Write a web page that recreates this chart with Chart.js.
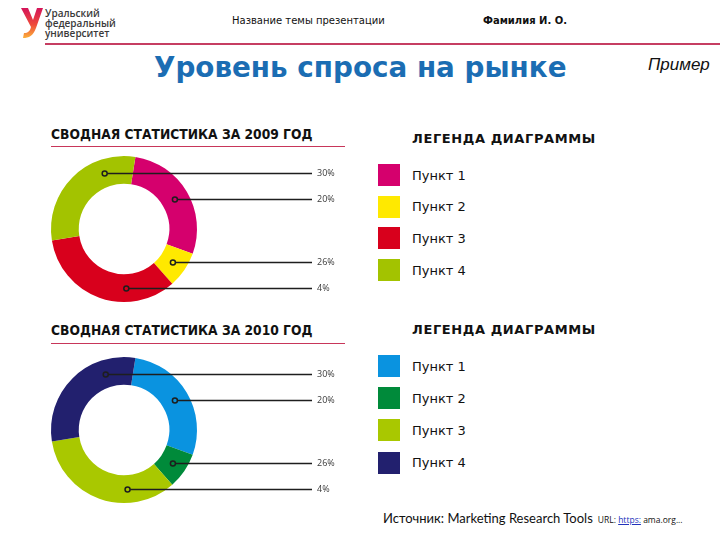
<!DOCTYPE html>
<html lang="ru">
<head>
<meta charset="utf-8">
<title>Уровень спроса на рынке</title>
<script src="https://cdn.jsdelivr.net/npm/chart.js@4.4.1/dist/chart.umd.min.js"></script>
<style>
  html, body { margin: 0; padding: 0; background: #fff; }
  body { width: 720px; height: 540px; position: relative; overflow: hidden; font-family: 'DejaVu Sans', Verdana, sans-serif; color: #111; }
  .abs { position: absolute; white-space: nowrap; }
  .logo-text { left: 45px; top: 8px; font: 600 10px/10px 'Open Sans', sans-serif; color: #3a3a3a; }
  .topic { left: 232px; top: 15px; font-size: 10px; color: #111; }
  .author { left: 483px; top: 15px; font-size: 10px; font-weight: bold; color: #111; }
  .top-rule { left: 45px; top: 43px; width: 675px; height: 2px; background: #c63e62; }
  .title { left: 154px; top: 51px; font-size: 27.8px; font-weight: bold; color: #1b6db3; }
  .example { left: 648px; top: 55px; font: italic 17px 'Liberation Sans', Arial, sans-serif; color: #111; }
  .sect { left: 51px; font-size: 14.5px; font-weight: bold; color: #111; transform: scaleX(0.85); transform-origin: 0 0; }
  .sect-rule { left: 51px; width: 294px; height: 1px; background: #c8365a; }
  .leg-title { left: 412px; font-size: 13px; font-weight: bold; letter-spacing: 0.6px; color: #111; }
  .leg-row { left: 378px; height: 22px; display: flex; align-items: center; }
  .leg-row i { width: 22px; height: 22px; display: block; margin-right: 12px; }
  .leg-row span { font-size: 13px; color: #111; }
  .source { left: 383px; top: 510px; font: 13px Lato, sans-serif; color: #111; }
  .source small { font: 8.5px 'Open Sans', sans-serif; margin-left: 5px; }
  .source small u { color: #2233bb; }
  canvas { position: absolute; }
</style>
</head>
<body>

<!-- header -->
<svg class="abs" style="left:18px;top:6px" width="28" height="34" viewBox="0 0 28 34">
  <defs>
    <linearGradient id="lg" x1="0" y1="0" x2="0" y2="1">
      <stop offset="0" stop-color="#d4145a"/>
      <stop offset="0.55" stop-color="#ee4a3a"/>
      <stop offset="1" stop-color="#fbb03b"/>
    </linearGradient>
  </defs>
  <path d="M3 2 L10 2 L15 14 L19 2 L25 2 L18 22 C15 30 11 32 5 32 L6 27 C10 27 12 25 13 21 Z" fill="url(#lg)"/>
</svg>
<div class="abs logo-text">Уральский<br>федеральный<br>университет</div>
<div class="abs topic">Название темы презентации</div>
<div class="abs author">Фамилия И. О.</div>
<div class="abs top-rule"></div>
<div class="abs title">Уровень спроса на рынке</div>
<div class="abs example">Пример</div>

<!-- section 2009 -->
<div class="abs sect" style="top:126px">СВОДНАЯ СТАТИСТИКА ЗА 2009 ГОД</div>
<div class="abs sect-rule" style="top:146px"></div>
<canvas id="c2009" width="360" height="160" style="left:0;top:150px"></canvas>
<div class="abs leg-title" style="top:131px">ЛЕГЕНДА ДИАГРАММЫ</div>
<div id="leg2009"></div>

<!-- section 2010 -->
<div class="abs sect" style="top:322px">СВОДНАЯ СТАТИСТИКА ЗА 2010 ГОД</div>
<div class="abs sect-rule" style="top:343px"></div>
<canvas id="c2010" width="360" height="160" style="left:0;top:351px"></canvas>
<div class="abs leg-title" style="top:322px">ЛЕГЕНДА ДИАГРАММЫ</div>
<div id="leg2010"></div>

<div class="abs source">Источник: Marketing Research Tools<small>URL: <u>https:</u> ama.org...</small></div>

<script>
// ---- data ----
const items = ['Пункт 1', 'Пункт 2', 'Пункт 3', 'Пункт 4'];
const shares2009 = [28, 8, 34, 30];
const shares2010 = [28, 8, 34, 30];
const colors2009 = ['#d5006d', '#ffe900', '#d8001c', '#a3c300'];
const colors2010 = ['#0a93e0', '#008a3a', '#a9c800', '#22206e'];
const calloutLabels = ['20%', '26%', '4%', '30%'];
// where along each slice (0..1) the callout marker sits
const calloutPos2009 = [0.5, 0.5, 0.32, 0.74];
const calloutPos2010 = [0.5, 0.5, 0.31, 0.75];

// horizontal leader lines with a small ring marker and a % label at the end
const callouts = {
  id: 'callouts',
  afterDatasetsDraw(chart, args, opts) {
    const ctx = chart.ctx;
    const meta = chart.getDatasetMeta(0);
    ctx.save();
    meta.data.forEach((arc, i) => {
      const p = arc.getProps(['x', 'y', 'startAngle', 'endAngle', 'innerRadius', 'outerRadius'], true);
      const a = p.startAngle + opts.pos[i] * (p.endAngle - p.startAngle);
      const r = (p.innerRadius + p.outerRadius) / 2;
      const mx = p.x + r * Math.cos(a);
      const my = Math.round(p.y + r * Math.sin(a)) + 0.5;
      ctx.strokeStyle = '#1e1e1e';
      ctx.lineWidth = 1.3;
      ctx.beginPath();
      ctx.moveTo(mx + 2.5, my);
      ctx.lineTo(opts.lineEnd, my);
      ctx.stroke();
      ctx.lineWidth = 1.5;
      ctx.beginPath();
      ctx.arc(mx, my, 2.5, 0, Math.PI * 2);
      ctx.stroke();
      ctx.fillStyle = '#3a3a3a';
      ctx.font = "9px 'Open Sans', sans-serif";
      ctx.textBaseline = 'middle';
      ctx.fillText(opts.labels[i], opts.lineEnd + 5, my);
    });
    ctx.restore();
  }
};

function donut(canvasId, shares, colors, pos) {
  return new Chart(document.getElementById(canvasId), {
    type: 'doughnut',
    data: {
      labels: items,
      datasets: [{ data: shares, backgroundColor: colors, borderWidth: 0, hoverOffset: 0 }],
    },
    options: {
      responsive: false,
      animation: false,
      cutout: '62%',
      rotation: 9,
      layout: { padding: { left: 51, top: 6, right: 163, bottom: 8 } },
      plugins: {
        legend: { display: false },
        tooltip: { enabled: false },
        callouts: { pos, labels: calloutLabels, lineEnd: 312 },
      },
    },
    plugins: [callouts],
  });
}

function legend(elId, colors, top, step) {
  const el = document.getElementById(elId);
  el.innerHTML = items.map((name, i) =>
    `<div class="abs leg-row" style="top:${top + i * step}px"><i style="background:${colors[i]}"></i><span>${name}</span></div>`
  ).join('');
}

donut('c2009', shares2009, colors2009, calloutPos2009);
donut('c2010', shares2010, colors2010, calloutPos2010);
legend('leg2009', colors2009, 164, 31.7);
legend('leg2010', colors2010, 355, 32.2);
</script>
</body>
</html>
